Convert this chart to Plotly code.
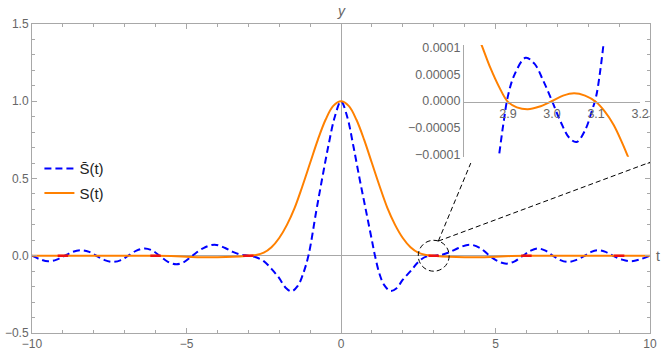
import plotly.graph_objects as go

# main curves
t_bar = [-10, -9.75, -9.48, -9.2, -8.94, -8.67, -8.4, -8.15, -7.92, -7.65, -7.38, -7.12,
         -6.89, -6.62, -6.35, -6.1, -5.87, -5.6, -5.33, -5.07, -4.81, -4.45, -4.09, -3.75,
         -3.5, -3.25, -3.0, -2.75, -2.5, -2.25, -2.0, -1.8, -1.6, -1.4, -1.25, -1.055,
         -0.8, -0.6, -0.4, -0.2, 0,
         0.2, 0.4, 0.6, 0.8, 1.0, 1.1, 1.25, 1.4, 1.6, 1.8, 2.0, 2.25, 2.5, 2.75, 3.0,
         3.25, 3.5, 3.8, 4.16, 4.5, 4.81, 5.08, 5.35, 5.62, 5.89, 6.14, 6.38, 6.62, 6.86,
         7.1, 7.34, 7.6, 7.89, 8.1, 8.32, 8.56, 8.8, 9.1, 9.4, 9.7, 10]
s_bar = [0, -0.022, -0.036, -0.025, 0, 0.026, 0.036, 0.025, 0, -0.028, -0.04, -0.028,
         0, 0.033, 0.047, 0.033, 0, -0.039, -0.055, -0.039, 0, 0.05, 0.072, 0.05,
         0.025, 0.007, 0.0, -0.01, -0.035, -0.085, -0.145, -0.205, -0.23, -0.195, -0.13, 0,
         0.29, 0.51, 0.72, 0.9, 1.0,
         0.9, 0.71, 0.5, 0.3, 0.1, 0.0, -0.12, -0.19, -0.228, -0.21, -0.155, -0.1, -0.04, -0.006, 0.0,
         0.006, 0.022, 0.05, 0.072, 0.05, 0, -0.036, -0.051, -0.036, 0, 0.033, 0.047, 0.033, 0,
         -0.028, -0.04, -0.028, 0, 0.025, 0.036, 0.025, 0, -0.025, -0.036, -0.022, 0]

t_s = [-10, -8, -6, -5.5, -5, -4.5, -4, -3.5, -3.0, -2.75, -2.5, -2.25, -2.0, -1.75, -1.5,
       -1.25, -1.0, -0.75, -0.5, -0.25, 0, 0.25, 0.5, 0.75, 1.0, 1.25, 1.5, 1.75, 2.0,
       2.25, 2.5, 2.75, 3.0, 3.5, 4, 4.5, 5, 5.5, 6, 8, 10]
s_val = [0, 0, 0, -0.002, -0.006, -0.01, -0.01, -0.007, 0.0, 0.005, 0.02, 0.055, 0.115, 0.2, 0.31,
         0.45, 0.6, 0.75, 0.88, 0.97, 1.0, 0.97, 0.88, 0.75, 0.6, 0.45, 0.31, 0.2, 0.115,
         0.055, 0.02, 0.005, 0.0, -0.007, -0.01, -0.01, -0.006, -0.002, 0, 0, 0]

# sample points marked in red
red_t = [-9, -6, -3, 3, 6, 9]

# inset zoom near t = 3
in_t_bar = [2.87, 2.88, 2.89, 2.9, 2.915, 2.94, 2.96, 2.98, 3.0, 3.02, 3.04, 3.056,
            3.075, 3.09, 3.1, 3.11, 3.12]
in_s_bar = [-0.00016, -0.0001, -0.00004, 0.00001, 0.00005, 0.000081, 0.00007, 0.000038, 0.0,
            -0.00004, -0.00007, -0.000077, -0.000055, -0.00002, 0.000008, 0.00006, 0.00013]
in_t_s = [2.82, 2.84, 2.86, 2.88, 2.9, 2.92, 2.945, 2.97, 3.0, 3.025, 3.05, 3.075, 3.1,
          3.12, 3.14, 3.16, 3.18]
in_s_val = [0.000145, 0.000105, 0.000062, 0.000026, -0.000002, -0.000012, -0.0000155, -0.000011,
            0.0, 0.00001, 0.0000145, 0.00001, -0.000002, -0.00002, -0.000045, -0.00008, -0.00012]
in_yticks = [0.0001, 0.00005, 0.0, -0.00005, -0.0001]
in_ylabels = ["0.0001", "0.00005", "0.0000", "\u22120.00005", "\u22120.0001"]

# zoom circle and the two pointer lines
circ_c = [3.0, 0.0]
circ_r = [0.5, 0.1]
ptr_from = [3.15, 0.095]
ptr_to = [[4.2, 0.6], [10, 0.605]]

BLUE = "#0000ff"
ORANGE = "#ff8000"
GRAY = "#a8a8a8"
LBL = "#666666"
FONT = "Liberation Sans, Arial, sans-serif"

fig = go.Figure()
fig.add_trace(go.Scatter(x=t_bar, y=s_bar, mode="lines", name="S\u0304(t)", legendgroup="a",
                         line=dict(color=BLUE, width=2, dash="7px,4px", shape="spline", smoothing=1)))
fig.add_trace(go.Scatter(x=t_s, y=s_val, mode="lines", name="S(t)", legendgroup="b",
                         line=dict(color=ORANGE, width=2, shape="spline", smoothing=1)))
rx, ry = [], []
for t in red_t:
    rx += [t - 0.17, t + 0.17, None]
    ry += [0, 0, None]
fig.add_trace(go.Scatter(x=rx, y=ry, mode="lines", showlegend=False,
                         line=dict(color="#ee1111", width=2.5)))

fig.add_trace(go.Scatter(x=in_t_bar, y=in_s_bar, mode="lines", showlegend=False,
                         xaxis="x2", yaxis="y2",
                         line=dict(color=BLUE, width=2, dash="7px,4px", shape="spline", smoothing=1)))
fig.add_trace(go.Scatter(x=in_t_s, y=in_s_val, mode="lines", showlegend=False,
                         xaxis="x2", yaxis="y2",
                         line=dict(color=ORANGE, width=2, shape="spline", smoothing=1)))

fig.add_shape(type="circle", xref="x", yref="y",
              x0=circ_c[0] - circ_r[0], x1=circ_c[0] + circ_r[0],
              y0=circ_c[1] - circ_r[1], y1=circ_c[1] + circ_r[1],
              line=dict(color="black", width=1, dash="5px,3px"))
for p in ptr_to:
    fig.add_shape(type="line", xref="x", yref="y", x0=ptr_from[0], y0=ptr_from[1],
                  x1=p[0], y1=p[1], line=dict(color="black", width=1, dash="5px,3px"))

fig.add_annotation(x=0, y=1, xref="x", yref="paper", text="<i>y</i>", showarrow=False,
                   yanchor="bottom", yshift=3, font=dict(size=14, color=LBL, family=FONT))
fig.add_annotation(x=1, y=0, xref="paper", yref="y", text="t", showarrow=False,
                   xanchor="left", xshift=4, font=dict(size=14, color=LBL, family=FONT))

fig.update_layout(
    width=664, height=355,
    margin=dict(l=32, r=14, t=24, b=22, autoexpand=False),
    plot_bgcolor="white", paper_bgcolor="white",
    font=dict(family=FONT, size=12, color=LBL),
    legend=dict(x=0.012, y=0.585, xanchor="left", yanchor="top", tracegroupgap=2,
                bgcolor="rgba(0,0,0,0)", font=dict(size=15, color="#222222")),
    xaxis=dict(range=[-10, 10], dtick=5, tick0=0, ticks="inside", ticklen=5, tickcolor=GRAY,
               showline=True, linecolor=GRAY, mirror="allticks", showgrid=False, automargin=False,
               zeroline=True, zerolinecolor=GRAY, zerolinewidth=1,
               minor=dict(ticks="inside", dtick=1, ticklen=3, tickcolor=GRAY)),
    yaxis=dict(range=[-0.5, 1.5], dtick=0.5, tick0=0, tickformat=".1f", ticks="inside",
               ticklen=5, tickcolor=GRAY, showline=True, linecolor=GRAY, mirror="allticks",
               showgrid=False, zeroline=True, zerolinecolor=GRAY, zerolinewidth=1, automargin=False,
               minor=dict(ticks="inside", dtick=0.1, ticklen=3, tickcolor=GRAY)),
    xaxis2=dict(domain=[0.699, 0.984], range=[2.8, 3.2], anchor="free", position=0.749,
                tickvals=[2.9, 3.0, 3.1, 3.2], tickformat=".1f", showline=True, linecolor=GRAY,
                showgrid=False, zeroline=False, ticks="", tickfont=dict(size=12.5), automargin=False),
    yaxis2=dict(domain=[0.57, 0.932], range=[-0.000105, 0.000105], anchor="x2",
                tickvals=in_yticks, ticktext=in_ylabels, showline=True, linecolor=GRAY,
                showgrid=False, zeroline=False, ticks="", tickfont=dict(size=12.5), automargin=False),
)

fig.write_html("out.html", config={"displayModeBar": False},
               post_script="document.body.style.margin='0';")
